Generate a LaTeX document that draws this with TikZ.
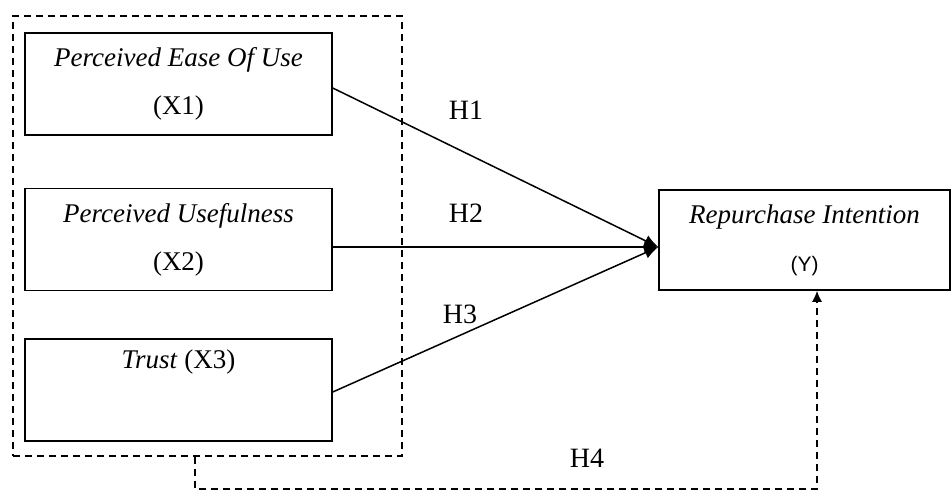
\documentclass[tikz,border=0pt]{standalone}
\usepackage{fontspec}
\setmainfont{Liberation Serif}
\newfontfamily\ysans{Liberation Sans}
\usepackage{tikz}
\usetikzlibrary{arrows.meta}

\tikzset{
	varbox/.style={draw,line width=1.5pt,minimum width=307pt,minimum height=102pt,align=center,inner sep=0pt,
		font=\fontsize{27}{48}\selectfont},
	groupbox/.style={draw,line width=1.5pt,dash pattern=on 7pt off 5pt,minimum width=389pt,minimum height=440pt,inner sep=0pt},
	hyplabel/.style={font=\fontsize{28}{30}\selectfont},
	hyparrow/.style={line width=1.5pt,-{Latex[length=14pt,width=12pt]}},
}

\begin{document}
\begin{tikzpicture}[x=1pt,y=-1pt]
	\useasboundingbox (0,0) rectangle (952,491);
	% variables
	\node[groupbox] (grp) at (207.5,236) {};
	\node[varbox] (x1) at (178.5,84) {\textit{Perceived Ease Of Use}\\(X1)};
	\node[varbox] (x2) at (178.5,239.5) {\textit{Perceived Usefulness}\\(X2)};
	\node[varbox] (x3) at (178.5,390) {\textit{Trust} (X3)\\\strut};
	\node[varbox,minimum width=291pt,minimum height=100pt] (y) at (804.5,240) {\textit{Repurchase Intention}\\{\ysans\fontsize{21}{22}\selectfont (Y)}};
	\coordinate (tip) at (y.west |- 0,247);
	% hypotheses
	\draw[hyparrow] ([yshift=-4pt]x1.east) -- (tip);
	\draw[hyparrow] ([yshift=-7.5pt]x2.east) -- (tip);
	\draw[hyparrow] ([yshift=-2pt]x3.east) -- (tip);
	\coordinate (drop) at (195,489);
	\draw[hyparrow,-{Latex[length=11pt,width=10pt]},dash pattern=on 7pt off 5pt] (grp.south -| drop) -- (drop) -| ([xshift=12.5pt]y.south);
	\node[hyplabel] (h1) at (466,110) {H1};
	\node[hyplabel] (h2) at (466,213) {H2};
	\node[hyplabel] (h3) at (460,314) {H3};
	\node[hyplabel] (h4) at (587,458) {H4};
\end{tikzpicture}
\end{document}
